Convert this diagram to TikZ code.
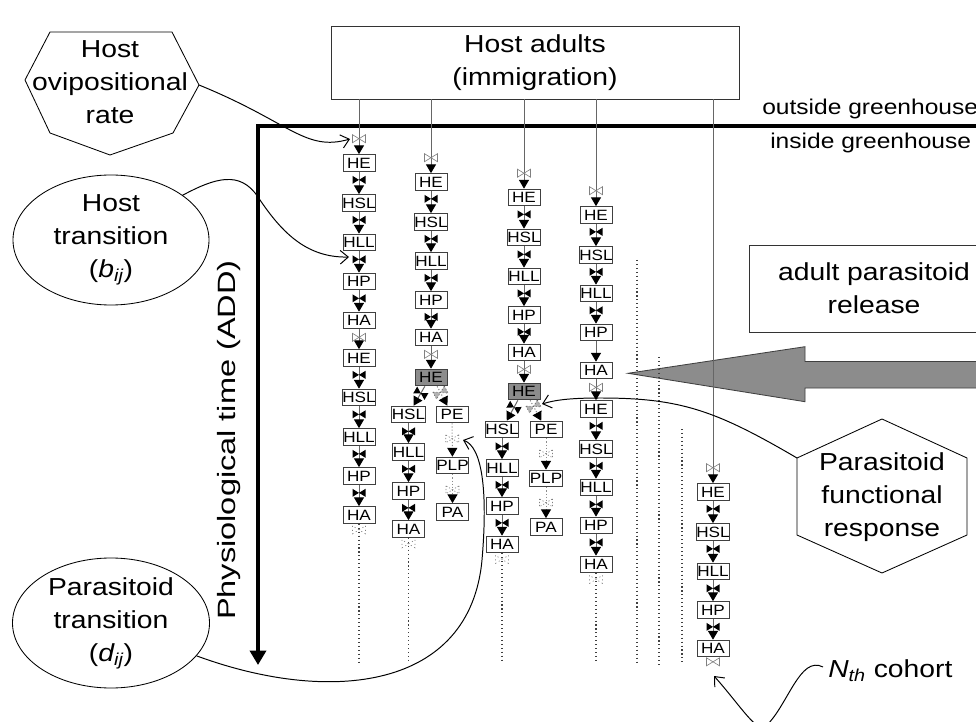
\documentclass[tikz,border=0pt]{standalone}
\usepackage{fontspec}
\setmainfont{Liberation Sans}[FakeStretch=1.15]
\newfontfamily\PhysFont{Liberation Sans}[FakeStretch=1.3]
\usetikzlibrary{arrows.meta,decorations.markings,shapes.geometric,calc}
\newcommand\BigTxt{\fontsize{17.5}{23.5}\selectfont}
\newcommand\MidTxt{\fontsize{15.2}{18}\selectfont}
\newcommand\BoxTxt{\fontsize{10.6}{12}\selectfont}
\tikzset{
  hb/.style={draw=black!75, line width=0.6pt, fill=white, minimum width=8mm, minimum height=4.2mm, inner sep=0pt, font=\BoxTxt},
  hbg/.style={hb, fill=black!45},
  lnk/.style={draw=black!60, line width=0.7pt, -{Triangle[width=2.5mm,length=2.2mm,black]}},
  bowF/.style={postaction={decorate,decoration={markings,mark=at position #1 with {\fill[black] (-4,-6.5)--(4,-6.5)--(0,0)--cycle (-4,6.5)--(4,6.5)--(0,0)--cycle;}}}},
  bowH/.style={postaction={decorate,decoration={markings,mark=at position #1 with {\filldraw[fill=white,draw=black!50,line width=0.45pt] (-4,-6.5)--(4,-6.5)--(0,0)--cycle (-4,6.5)--(4,6.5)--(0,0)--cycle;}}}},
  bowG/.style={postaction={decorate,decoration={markings,mark=at position #1 with {\filldraw[fill=black!30,draw=black!60,line width=0.45pt] (-4,-6.5)--(4,-6.5)--(0,0)--cycle (-4,6.5)--(4,6.5)--(0,0)--cycle;}}}},
  lf/.style={lnk, bowF=5.7pt},
  lh/.style={lnk, bowH=5.7pt},
  ln/.style={lnk},
  lt/.style={lnk, bowH=-11pt},
  ld/.style={draw=black!75, line width=0.8pt, dash pattern=on 0.8pt off 2pt, bowH=4.3pt},
  lp/.style={draw=black!45, line width=0.7pt, dash pattern=on 0.8pt off 1.4pt, -{Triangle[width=2.5mm,length=2.2mm,black]}, bowH=11pt},
  lbr/.style={draw=black!50, line width=0.7pt, dash pattern=on 0.8pt off 1.4pt, -{Triangle[width=2.5mm,length=2.2mm,black]}, bowG=5pt},
  gdot/.style={draw=black!75, line width=0.8pt, dash pattern=on 0.8pt off 2pt},
  conn/.style={draw=black, line width=0.7pt, -{Straight Barb[length=2mm,width=3.4mm]}},
  bwh/.pic={\filldraw[fill=white,draw=black!50,line width=0.45pt] (-6.5,-4)--(-6.5,4)--(0,0)--cycle (6.5,-4)--(6.5,4)--(0,0)--cycle;},
  bigbox/.style={draw=black!80, line width=0.7pt, align=center, font=\BigTxt, inner sep=0pt},
  lbl/.style={align=center, font=\BigTxt, inner sep=0pt}
}
\begin{document}
\begin{tikzpicture}[x=0.25mm,y=-0.25mm]
\useasboundingbox (0,0) rectangle (976,722);
\fill[white] (0,0) rectangle (976,722);
\clip (0,0) rectangle (976,722);

% big gray release arrow
\filldraw[fill=black!45,draw=black!75,line width=0.6pt] (628,373.3) -- (805,346.7) -- (805,361.5) -- (1000,361.5) -- (1000,388) -- (805,388) -- (805,401.7) -- cycle;

% dotted guide lines
\coordinate (g1a) at (637,260); \coordinate (g1b) at (637,665);
\coordinate (g2a) at (659,357); \coordinate (g2b) at (659,665);
\coordinate (g3a) at (682,429); \coordinate (g3b) at (682,665);
\draw[gdot] (g1a) -- (g1b);
\draw[gdot] (g2a) -- (g2b);
\draw[gdot] (g3a) -- (g3b);

% boxes
\node[bigbox, minimum width=102mm, minimum height=18.25mm] (top) at (535,62.5) {Host adults\\(immigration)};
\node[bigbox, minimum width=62.5mm, minimum height=21.75mm] (rel) at (874,288.5) {adult parasitoid\\release};

% greenhouse boundary / physiological time axis
\coordinate (gh1) at (1000,126);
\coordinate (gh2) at (258,126);
\coordinate (gh3) at (258,665);
\draw[line width=2.4pt, -{Triangle[width=4mm,length=3.6mm]}] (gh1) -- (gh2) -- (gh3);
\node[font=\MidTxt, anchor=west, inner sep=0pt] (out) at (762,109) {outside greenhouse};
\node[font=\MidTxt, anchor=west, inner sep=0pt] (ins) at (770,143) {inside greenhouse};
\node[font=\PhysFont\fontsize{17.8}{22}\selectfont, rotate=90, inner sep=0pt] (phys) at (229,440) {Physiological time (ADD)};

% column 1
\node[hb] (c1a) at (359,163) {HE};
\node[hb] (c1b) at (359,203) {HSL};
\node[hb] (c1c) at (359,242.5) {HLL};
\node[hb] (c1d) at (359,281.5) {HP};
\node[hb] (c1e) at (359,320.5) {HA};
\node[hb] (c1f) at (359,358) {HE};
\node[hb] (c1g) at (359,397.5) {HSL};
\node[hb] (c1h) at (359,437) {HLL};
\node[hb] (c1i) at (359,476) {HP};
\node[hb] (c1j) at (359,515) {HA};
\coordinate (c1z) at (359,663);
\draw[lt] (c1a |- top.south) -- (c1a);
\draw[lf] (c1a) -- (c1b);
\draw[lf] (c1b) -- (c1c);
\draw[lf] (c1c) -- (c1d);
\draw[lf] (c1d) -- (c1e);
\draw[lh] (c1e) -- (c1f);
\draw[lf] (c1f) -- (c1g);
\draw[lf] (c1g) -- (c1h);
\draw[lf] (c1h) -- (c1i);
\draw[lf] (c1i) -- (c1j);
\draw[ld] (c1j) -- (c1z);

% column 2
\node[hb] (c2a) at (431,182) {HE};
\node[hb] (c2b) at (431,222) {HSL};
\node[hb] (c2c) at (431,261) {HLL};
\node[hb] (c2d) at (431,300) {HP};
\node[hb] (c2e) at (431,337.5) {HA};
\node[hbg] (c2f) at (431,377.5) {HE};
\node[hb] (c2g) at (408.5,414.5) {HSL};
\node[hb] (c2h) at (408.5,452) {HLL};
\node[hb] (c2i) at (408.5,491) {HP};
\node[hb] (c2j) at (408.5,529) {HA};
\coordinate (c2z) at (408.5,663);
\node[hb] (c2p) at (452,414.5) {PE};
\node[hb] (c2q) at (452.5,465.5) {PLP};
\node[hb] (c2r) at (452.5,512) {PA};
\draw[lt] (c2a |- top.south) -- (c2a);
\draw[lf] (c2a) -- (c2b);
\draw[lf] (c2b) -- (c2c);
\draw[lf] (c2c) -- (c2d);
\draw[lf] (c2d) -- (c2e);
\draw[lh] (c2e) -- (c2f);
\draw[lf] (c2f.-125) -- (c2g);
\draw[lf] (c2g) -- (c2h);
\draw[lf] (c2h) -- (c2i);
\draw[lf] (c2i) -- (c2j);
\draw[ld] (c2j) -- (c2z);
\draw[lbr] (c2f.-55) -- (c2p);
\draw[lp] (c2p) -- (c2q);
\draw[lp] (c2q) -- (c2r);

% column 3
\node[hb] (c3a) at (524,197.5) {HE};
\node[hb] (c3b) at (524,237.5) {HSL};
\node[hb] (c3c) at (524,276.5) {HLL};
\node[hb] (c3d) at (524,315) {HP};
\node[hb] (c3e) at (524,352.5) {HA};
\node[hbg] (c3f) at (524,391.5) {HE};
\node[hb] (c3g) at (502,429.5) {HSL};
\node[hb] (c3h) at (502,468) {HLL};
\node[hb] (c3i) at (502,506) {HP};
\node[hb] (c3j) at (502,544.5) {HA};
\coordinate (c3z) at (502,663);
\node[hb] (c3p) at (546,429.5) {PE};
\node[hb] (c3q) at (546,478.5) {PLP};
\node[hb] (c3r) at (546,527) {PA};
\draw[lt] (c3a |- top.south) -- (c3a);
\draw[lf] (c3a) -- (c3b);
\draw[lf] (c3b) -- (c3c);
\draw[lf] (c3c) -- (c3d);
\draw[lf] (c3d) -- (c3e);
\draw[lh] (c3e) -- (c3f);
\draw[lf] (c3f.-125) -- (c3g);
\draw[lf] (c3g) -- (c3h);
\draw[lf] (c3h) -- (c3i);
\draw[lf] (c3i) -- (c3j);
\draw[ld] (c3j) -- (c3z);
\draw[lbr] (c3f.-55) -- (c3p);
\draw[lp] (c3p) -- (c3q);
\draw[lp] (c3q) -- (c3r);

% column 4
\node[hb] (c4a) at (596,215) {HE};
\node[hb] (c4b) at (596,255) {HSL};
\node[hb] (c4c) at (596,293.5) {HLL};
\node[hb] (c4d) at (596,332.5) {HP};
\node[hb] (c4e) at (596,370.5) {HA};
\node[hb] (c4f) at (596,409) {HE};
\node[hb] (c4g) at (596,449) {HSL};
\node[hb] (c4h) at (596,487.5) {HLL};
\node[hb] (c4i) at (596,525.5) {HP};
\node[hb] (c4j) at (596,564.5) {HA};
\coordinate (c4z) at (596,663);
\draw[lt] (c4a |- top.south) -- (c4a);
\draw[lf] (c4a) -- (c4b);
\draw[lf] (c4b) -- (c4c);
\draw[lf] (c4c) -- (c4d);
\draw[ln] (c4d) -- (c4e);
\draw[lh] (c4e) -- (c4f);
\draw[lf] (c4f) -- (c4g);
\draw[lf] (c4g) -- (c4h);
\draw[lf] (c4h) -- (c4i);
\draw[lf] (c4i) -- (c4j);
\draw[ld] (c4j) -- (c4z);

% column 5
\node[hb] (c5a) at (713,492) {HE};
\node[hb] (c5b) at (713,532) {HSL};
\node[hb] (c5c) at (713,571.5) {HLL};
\node[hb] (c5d) at (713,610) {HP};
\node[hb] (c5e) at (713,648.5) {HA};
\draw[lt] (c5a |- top.south) -- (c5a);
\draw[lf] (c5a) -- (c5b);
\draw[lf] (c5b) -- (c5c);
\draw[lf] (c5c) -- (c5d);
\draw[lf] (c5d) -- (c5e);
\pic at ($(c5e.south)+(0,4.5)$) {bwh};

% Host ovipositional rate (heptagon)
\draw[line width=0.6pt] (50,32) -- (172,32) -- (199,85) -- (173,133) -- (110,155) -- (50,133) -- (25,80) -- cycle;
\node[lbl] (hov) at (110,82) {Host\\ovipositional\\rate};
\coordinate (hovR) at (199,85);
\coordinate (c1tip) at (350,139);
\draw[conn] (hovR) .. controls (290,122) and (305,152) .. (c1tip);

% Host transition
\node[lbl, draw, ellipse, line width=0.6pt, minimum width=49mm, minimum height=32.5mm] (htr) at (111,240) {Host\\transition\\(\textit{b\textsubscript{ij}})};
\coordinate (c1tip2) at (349,257);
\draw[conn] (htr.32) .. controls (215,178) and (240,170) .. (258,197) .. controls (280,230) and (305,258) .. (c1tip2);

% Parasitoid transition
\node[lbl, draw, ellipse, line width=0.6pt, minimum width=49.25mm, minimum height=32.5mm] (ptr) at (111,623) {Parasitoid\\transition\\(\textit{d\textsubscript{ij}})};
\coordinate (c2tip) at (463,440);
\draw[conn] (ptr.-21) .. controls (330,705) and (470,690) .. (482,560) .. controls (488,490) and (482,447) .. (c2tip);

% Parasitoid functional response (hexagon)
\draw[line width=0.6pt] (882,419) -- (967,458) -- (967,535) -- (882,573) -- (797,535) -- (797,458) -- cycle;
\node[lbl] (pfr) at (882,497) {Parasitoid\\functional\\response};
\coordinate (pfrUL) at (797,458);
\coordinate (c3tip) at (542,404);
\draw[conn] (pfrUL) .. controls (715,410) and (680,398) .. (600,398) .. controls (570,398) and (555,400) .. (c3tip);

% Nth cohort
\node[font=\BigTxt, anchor=base west, inner sep=0pt] (nth) at (828,677) {\textit{N\textsubscript{th}} cohort};
\coordinate (nthS) at (823,667);
\coordinate (c5tip) at (714,676);
\draw[conn] (nthS) .. controls (800,655) and (788,705) .. (766,726) .. controls (758,735) and (740,705) .. (c5tip);
\end{tikzpicture}
\end{document}
